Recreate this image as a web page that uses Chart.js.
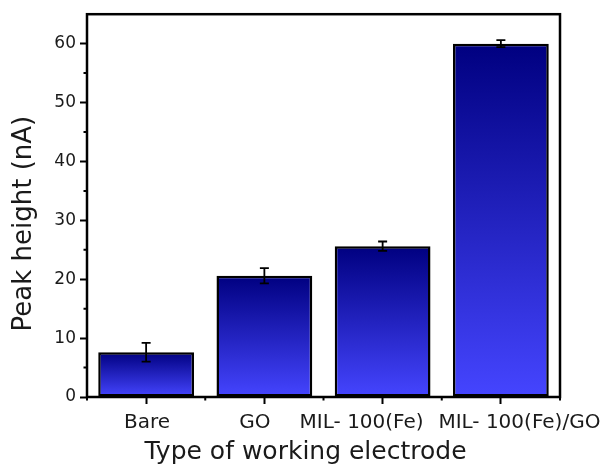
<!DOCTYPE html>
<html>
<head>
<meta charset="utf-8">
<script src="https://cdn.jsdelivr.net/npm/chart.js@4.4.1/dist/chart.umd.min.js"></script>
<style>
  html, body { margin: 0; padding: 0; background: #fff; }
  canvas { display: block; }
</style>
</head>
<body>
<canvas id="chart" width="609" height="467"></canvas>
<script>
// Electrode types and their peak heights (nA) with standard deviations
const categories = ['Bare', 'GO', 'MIL- 100(Fe)', 'MIL- 100(Fe)/GO'];
const peakHeights = [7.6, 20.6, 25.6, 60.0];
const peakErrors = [1.6, 1.3, 0.8, 0.6];
const yTickValues = [0, 10, 20, 30, 40, 50, 60];
const xTitle = 'Type of working electrode';
const yTitle = 'Peak height (nA)';

const FONT = '"DejaVu Sans", "Liberation Sans", Arial, sans-serif';
const TEXT = '#1a1a1a';
// horizontal nudges for the category captions so the long names don't collide
const labelShift = [1, -9.5, -21, 18.5];

// vertical navy-to-blue fill, computed per bar from its own top to the baseline
function barGradient(context) {
  const chart = context.chart;
  const yScale = chart.scales.y;
  if (!chart.chartArea || !yScale) return '#2a2ac0';
  const top = yScale.getPixelForValue(context.raw);
  const base = yScale.getPixelForValue(0);
  const g = chart.ctx.createLinearGradient(0, top, 0, base);
  g.addColorStop(0, '#000080');
  g.addColorStop(1, '#4545ff');
  return g;
}

const decorations = {
  id: 'decorations',
  afterDatasetsDraw(chart) {
    const { ctx, chartArea: a, scales: { x, y } } = chart;
    ctx.save();

    // error bars
    ctx.strokeStyle = '#000';
    ctx.lineWidth = 1.8;
    ctx.beginPath();
    peakHeights.forEach((v, i) => {
      const cx = x.getPixelForValue(i);
      const hi = y.getPixelForValue(v + peakErrors[i]);
      const lo = y.getPixelForValue(v - peakErrors[i]);
      ctx.moveTo(cx, hi); ctx.lineTo(cx, lo);
      ctx.moveTo(cx - 4.5, hi); ctx.lineTo(cx + 4.5, hi);
      ctx.moveTo(cx - 4.5, lo); ctx.lineTo(cx + 4.5, lo);
    });
    ctx.stroke();

    // closed frame around the plot area
    ctx.lineWidth = 2.5;
    ctx.strokeRect(a.left, a.top, a.right - a.left, a.bottom - a.top);

    // minor ticks
    ctx.lineWidth = 2;
    ctx.beginPath();
    for (let v = 5; v < y.max; v += 10) {
      const py = y.getPixelForValue(v);
      ctx.moveTo(a.left - 3.5, py); ctx.lineTo(a.left, py);
    }
    for (let i = 0; i <= categories.length; i++) {
      const px = x.getPixelForValue(i - 0.5);
      ctx.moveTo(px, a.bottom); ctx.lineTo(px, a.bottom + 3.5);
    }
    ctx.stroke();

    // category captions
    ctx.fillStyle = TEXT;
    ctx.font = '20px ' + FONT;
    ctx.textAlign = 'center';
    ctx.textBaseline = 'alphabetic';
    categories.forEach((lab, i) => {
      ctx.fillText(lab, x.getPixelForValue(i) + labelShift[i], a.bottom + 31);
    });

    // axis titles
    const midX = (a.left + a.right) / 2;
    const midY = (a.top + a.bottom) / 2;
    ctx.font = '25px ' + FONT;
    ctx.fillText(xTitle, midX - 18, a.bottom + 62);

    ctx.font = '26px ' + FONT;
    ctx.translate(31, midY + 18);
    ctx.rotate(-Math.PI / 2);
    ctx.fillText(yTitle, 0, 0);

    ctx.restore();
  }
};

new Chart(document.getElementById('chart'), {
  type: 'bar',
  data: {
    labels: categories,
    datasets: [{
      data: peakHeights,
      backgroundColor: barGradient,
      borderColor: '#000',
      borderWidth: 2.5,
      borderSkipped: false,
      barPercentage: 0.81,
      categoryPercentage: 1
    }]
  },
  options: {
    responsive: false,
    animation: false,
    devicePixelRatio: 1,
    layout: { padding: { top: 12, right: 49, left: 0, bottom: 0 } },
    plugins: {
      legend: { display: false },
      tooltip: { enabled: false }
    },
    scales: {
      x: {
        type: 'category',
        offset: true,
        grid: {
          offset: false,
          drawOnChartArea: false,
          drawTicks: true,
          tickLength: 7,
          tickWidth: 2,
          tickColor: '#000'
        },
        border: { display: false },
        ticks: { display: false },
        afterFit(scale) { scale.height = 70; }
      },
      y: {
        min: 0,
        max: 65,
        afterBuildTicks(scale) { scale.ticks = yTickValues.map(v => ({ value: v })); },
        grid: {
          drawOnChartArea: false,
          drawTicks: true,
          tickLength: 7,
          tickWidth: 2,
          tickColor: '#000'
        },
        border: { display: false },
        ticks: {
          color: TEXT,
          font: { family: FONT, size: 17 },
          padding: 4
        },
        afterFit(scale) { scale.width = 87; }
      }
    }
  },
  plugins: [decorations]
});
</script>
</body>
</html>
